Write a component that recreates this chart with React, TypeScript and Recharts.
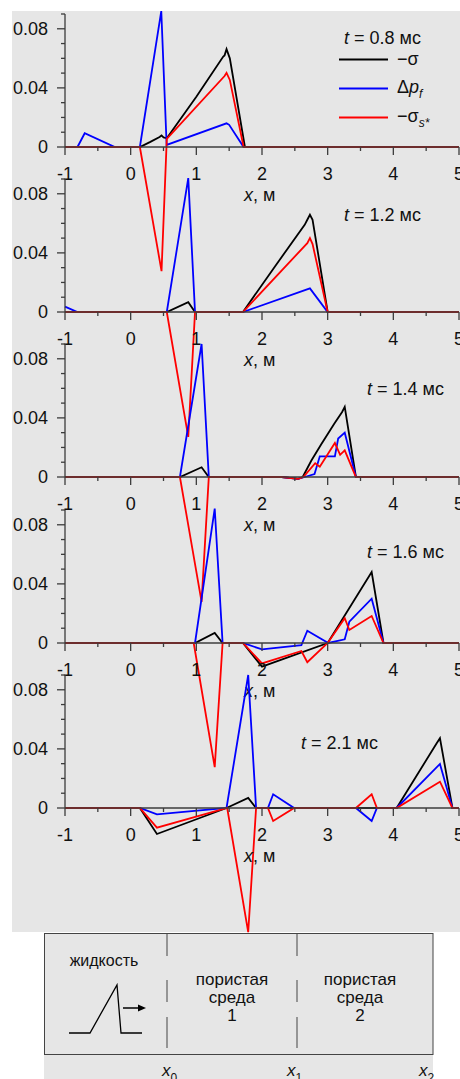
import React from 'react';
import { LineChart, Line, XAxis, YAxis, Legend } from 'recharts';

type Pt = [number, number];

const X_TICKS = [-1, -0.5, 0, 0.5, 1, 1.5, 2, 2.5, 3, 3.5, 4, 4.5, 5];
const Y_TICKS = [0, 0.01, 0.02, 0.03, 0.04, 0.05, 0.06, 0.07, 0.08, 0.09];
const Y_LABELS = [0, 0.04, 0.08];
const TIMES = ['0.8', '1.2', '1.4', '1.6', '2.1'];
const SERIES_NAMES = ['sigma', 'pf', 'ss'];

// t = 0.8 ms
const sigma08: Pt[] = [[-1, 0], [0.14, 0], [0.3, 0.0035], [0.44, 0.0068], [0.47, 0.0078], [0.5, 0.0065], [0.55, 0.0059], [1.0, 0.034], [1.41, 0.0612], [1.43, 0.062], [1.46, 0.0662], [1.51, 0.06], [1.74, 0], [5, 0]];
const pf08: Pt[] = [[-1, 0], [-0.81, 0], [-0.7, 0.0093], [-0.24, 0], [0.14, 0], [0.466, 0.092], [0.548, 0.0014], [1.46, 0.016], [1.5, 0.015], [1.72, 0], [5, 0]];
const ss08: Pt[] = [[-1, 0], [0.14, 0], [0.47, -0.084], [0.55, 0.0055], [1.43, 0.048], [1.46, 0.0502], [1.51, 0.0454], [1.72, 0], [5, 0]];

// t = 1.2 ms
const sigma12: Pt[] = [[-1, 0], [0.55, 0], [0.877, 0.0066], [0.98, 0], [1.71, 0], [2.2, 0.031], [2.65, 0.059], [2.69, 0.0624], [2.73, 0.0658], [2.77, 0.0624], [3.0, 0], [5, 0]];
const pf12: Pt[] = [[-1, 0.0036], [-0.81, 0], [0.55, 0], [0.877, 0.0906], [0.98, 0], [1.71, 0], [2.73, 0.016], [3.0, 0], [5, 0]];
const ss12: Pt[] = [[-1, 0], [0.55, 0], [0.877, -0.0845], [0.98, 0], [1.71, 0], [2.69, 0.0466], [2.73, 0.05], [2.77, 0.046], [3.0, 0], [5, 0]];

// t = 1.4 ms
const sigma14: Pt[] = [[-1, 0], [0.75, 0], [1.08, 0.0066], [1.19, 0], [2.3, 0], [2.55, -0.0012], [2.62, 0], [2.75, 0.011], [2.9, 0.022], [3.1, 0.036], [3.22, 0.044], [3.26, 0.0475], [3.43, 0], [5, 0]];
const pf14: Pt[] = [[-1, 0], [0.75, 0], [1.08, 0.09], [1.19, 0], [2.3, 0], [2.55, -0.0012], [2.65, 0], [2.8, 0.002], [2.88, 0.014], [3.11, 0.014], [3.16, 0.026], [3.26, 0.03], [3.43, 0], [5, 0]];
const ss14: Pt[] = [[-1, 0], [0.75, 0], [1.08, -0.0845], [1.19, 0], [2.3, 0], [2.55, -0.0012], [2.63, 0], [2.81, 0.0093], [2.88, 0.007], [3.11, 0.023], [3.19, 0.015], [3.26, 0.018], [3.43, 0], [5, 0]];

// t = 1.6 ms
const sigma16: Pt[] = [[-1, 0], [0.98, 0], [1.28, 0.0068], [1.4, 0], [1.71, 0], [2.0, -0.016], [3.0, 0], [3.67, 0.048], [3.85, 0], [5, 0]];
const pf16: Pt[] = [[-1, 0], [0.98, 0], [1.28, 0.091], [1.4, 0], [1.71, 0], [2.0, -0.0043], [2.6, -0.0014], [2.69, 0.0083], [3.01, 0], [3.26, 0.0025], [3.33, 0.0144], [3.67, 0.03], [3.85, 0], [5, 0]];
const ss16: Pt[] = [[-1, 0], [0.96, 0], [1.28, -0.084], [1.4, 0], [1.71, 0], [2.0, -0.0138], [2.6, -0.0054], [2.69, -0.013], [3.0, 0], [3.26, 0.0168], [3.33, 0.0088], [3.67, 0.0183], [3.85, 0], [5, 0]];

// t = 2.1 ms
const sigma21: Pt[] = [[-1, 0], [0.14, 0], [0.4, -0.0176], [1.46, 0], [1.79, 0.0068], [1.91, 0], [4.05, 0], [4.66, 0.0438], [4.71, 0.0472], [4.9, 0], [5, 0]];
const pf21: Pt[] = [[-1, 0], [0.14, 0], [0.4, -0.0043], [1.46, 0], [1.79, 0.09], [1.91, 0], [2.09, 0], [2.17, 0.0093], [2.49, 0], [3.43, 0], [3.67, -0.0088], [3.75, 0], [4.05, 0], [4.71, 0.0298], [4.9, 0], [5, 0]];
const ss21: Pt[] = [[-1, 0], [0.14, 0], [0.4, -0.0133], [1.47, 0], [1.79, -0.084], [1.91, 0], [2.09, 0], [2.17, -0.0088], [2.49, 0], [3.43, 0], [3.67, 0.0093], [3.75, 0], [4.05, 0], [4.71, 0.0178], [4.9, 0], [5, 0]];

const SERIES_SIGMA = [sigma08, sigma12, sigma14, sigma16, sigma21];
const SERIES_PF = [pf08, pf12, pf14, pf16, pf21];
const SERIES_SS = [ss08, ss12, ss14, ss16, ss21];

// layout (pixels)
const ZERO_Y = [147, 312, 477, 643, 808];
const TITLE_POS = [
  { left: 344, top: 38 },
  { left: 344, top: 215 },
  { left: 367, top: 389 },
  { left: 367, top: 552 },
  { left: 301, top: 743 },
];

const FONT = '"Liberation Sans", Arial, Helvetica, sans-serif';
const AXIS = '#3c3c3c';
const BG = '#e6e6e6';
const TXT = '#111';
const PLOT_H = 133;
const TOP = 20;
const BELOW = 150;
const AX_H = 60;
const FS = 18;
const LW = 1.8;

const rows = (pts: Pt[]) => pts.map(([x, y]) => ({ x, y }));

const XTick = (props: any) => {
  const { x, y, payload } = props;
  const v = payload.value;
  const major = Number.isInteger(v);
  return (
    <g>
      <line x1={x} x2={x} y1={y} y2={y + (major ? 8 : 4)} stroke={AXIS} strokeWidth={1.3} />
      {major && (
        <text x={x} y={y + 27} textAnchor="middle" dominantBaseline="central" fontSize={FS} fill={TXT} fontFamily={FONT}>
          {v}
        </text>
      )}
      {v === 2 && (
        <text x={x - 18} y={y + 48} dominantBaseline="central" fontSize={FS} fill={TXT} fontFamily={FONT}>
          <tspan fontStyle="italic">x</tspan>, м
        </text>
      )}
    </g>
  );
};

const YTick = (props: any) => {
  const { x, y, payload } = props;
  const v = payload.value;
  const major = Y_LABELS.some((l) => Math.abs(l - v) < 1e-9);
  return (
    <g>
      <line x1={x - (major ? 8 : 4)} x2={x} y1={y} y2={y} stroke={AXIS} strokeWidth={1.3} />
      {major && (
        <text x={x - 17} y={y} textAnchor="end" dominantBaseline="central" fontSize={FS} fill={TXT} fontFamily={FONT}>
          {v}
        </text>
      )}
    </g>
  );
};

const LEGEND_TEXT: Record<string, React.ReactNode> = {
  sigma: <>−σ</>,
  pf: (
    <>
      Δ<i>p</i>
      <i style={{ fontSize: 12, position: 'relative', top: 5 }}>f</i>
    </>
  ),
  ss: (
    <>
      −σ<i style={{ fontSize: 12, position: 'relative', top: 5 }}>s*</i>
    </>
  ),
};

const renderLegend = (props: any) => {
  const payload = [...(props.payload || [])].sort(
    (a: any, b: any) => SERIES_NAMES.indexOf(a.value) - SERIES_NAMES.indexOf(b.value)
  );
  return (
    <div style={{ fontFamily: FONT, fontSize: FS, color: TXT }}>
      {payload.map((e: any) => (
        <div key={e.value} style={{ display: 'flex', alignItems: 'center', height: 29 }}>
          <svg width={49} height={29} style={{ display: 'block' }}>
            <line x1={0} x2={49} y1={14.5} y2={14.5} stroke={e.color} strokeWidth={2} />
          </svg>
          <span style={{ marginLeft: 9, whiteSpace: 'nowrap', lineHeight: '29px' }}>{LEGEND_TEXT[e.value]}</span>
        </div>
      ))}
    </div>
  );
};

function Panel({ i }: { i: number }) {
  const zero = ZERO_Y[i];
  return (
    <div style={{ position: 'absolute', left: 0, top: zero - PLOT_H - TOP }}>
      <LineChart
        width={460}
        height={TOP + PLOT_H + BELOW}
        margin={{ top: TOP, right: 1, left: 5, bottom: BELOW - AX_H }}
      >
        <XAxis
          type="number"
          dataKey="x"
          domain={[-1, 5]}
          ticks={X_TICKS}
          interval={0}
          allowDataOverflow
          tickSize={0}
          tickMargin={0}
          tickLine={false}
          height={AX_H}
          axisLine={{ stroke: AXIS, strokeWidth: 1.3 }}
          tick={(p: any) => <XTick {...p} />}
        />
        <YAxis
          type="number"
          domain={[0, 0.09]}
          ticks={Y_TICKS}
          interval={0}
          allowDataOverflow
          width={60}
          tickSize={0}
          tickMargin={0}
          tickLine={false}
          axisLine={{ stroke: AXIS, strokeWidth: 1.3 }}
          tick={(p: any) => <YTick {...p} />}
        />
        <Line data={rows(SERIES_SIGMA[i])} dataKey="y" name="sigma" type="linear" stroke="#000000" strokeWidth={LW} dot={false} activeDot={false} isAnimationActive={false} />
        <Line data={rows(SERIES_PF[i])} dataKey="y" name="pf" type="linear" stroke="#0000ff" strokeWidth={LW} dot={false} activeDot={false} isAnimationActive={false} />
        <Line data={rows(SERIES_SS[i])} dataKey="y" name="ss" type="linear" stroke="#ff0000" strokeWidth={LW} dot={false} activeDot={false} isAnimationActive={false} />
        {i === 0 && (
          <Legend
            layout="vertical"
            align="center"
            verticalAlign="middle"
            itemSorter={(item: any) => SERIES_NAMES.indexOf(item.value)}
            content={renderLegend}
            wrapperStyle={{ left: 339, top: 59 - (zero - PLOT_H - TOP) - 14.5, width: 115 }}
          />
        )}
      </LineChart>
    </div>
  );
}

function Schematic() {
  const dash = [[8, 31], [55, 77], [92, 123]];
  return (
    <svg width={460} height={154} style={{ position: 'absolute', left: 0, top: 925 }} fontFamily={FONT}>
      <rect x={44} y={129} width={389} height={25} fill={BG} />
      <rect x={44.5} y={8.5} width={388.5} height={121} fill={BG} stroke="#444" strokeWidth={1} />
      {[167, 297].map((lx) =>
        dash.map(([a, b]) => <line key={lx + '-' + a} x1={lx} x2={lx} y1={a} y2={b} stroke="#444" strokeWidth={1} />)
      )}
      <text x={104} y={41} textAnchor="middle" fontSize={16} fill={TXT}>жидкость</text>
      <polyline points="69,108 90,108 117,60 121,108 142,108" fill="none" stroke="#000" strokeWidth={1.3} />
      <line x1={123} x2={139} y1={83} y2={83} stroke="#000" strokeWidth={1.5} />
      <polygon points="138,79.5 146,83 138,86.5" fill="#000" />
      {[{ cx: 232, n: '1' }, { cx: 360, n: '2' }].map((s) => (
        <g key={s.n}>
          <text x={s.cx} y={60} textAnchor="middle" fontSize={17} fill={TXT}>пористая</text>
          <text x={s.cx} y={78} textAnchor="middle" fontSize={17} fill={TXT}>среда</text>
          <text x={s.cx} y={96} textAnchor="middle" fontSize={17} fill={TXT}>{s.n}</text>
        </g>
      ))}
      {[{ x: 162, s: '0' }, { x: 287, s: '1' }, { x: 419, s: '2' }].map((l) => (
        <text key={l.s} x={l.x} y={151} fontSize={17} fill={TXT}>
          <tspan fontStyle="italic">x</tspan>
          <tspan fontSize={12} dy={6}>{l.s}</tspan>
        </text>
      ))}
    </svg>
  );
}

export default function App() {
  return (
    <div className="fig" style={{ position: 'absolute', left: 0, top: 0, width: 460, height: 1079, overflow: 'hidden', fontFamily: FONT, background: '#fff' }}>
      <style>{'.fig svg [clip-path]{clip-path:none !important}.fig svg.recharts-surface{overflow:visible}'}</style>
      <div style={{ position: 'absolute', left: 12, top: 11, width: 448, height: 921, background: BG }} />
      {TIMES.map((_, i) => (
        <Panel key={i} i={i} />
      ))}
      {TIMES.map((t, i) => (
        <div
          key={'t' + i}
          style={{ position: 'absolute', left: TITLE_POS[i].left, top: TITLE_POS[i].top - 11, fontSize: FS, lineHeight: '22px', color: TXT, whiteSpace: 'nowrap' }}
        >
          <i>t</i> = {t} мс
        </div>
      ))}
      <Schematic />
    </div>
  );
}
